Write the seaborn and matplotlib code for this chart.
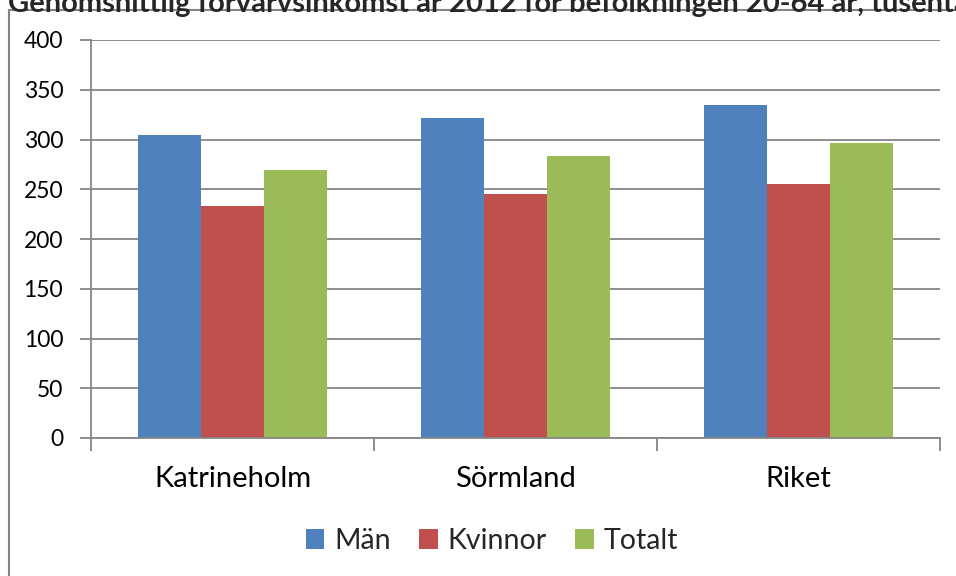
import matplotlib
matplotlib.use("Agg")
import matplotlib.pyplot as plt
import seaborn as sns
import pandas as pd
from matplotlib.patches import Rectangle

categories = ["Katrineholm", "Sörmland", "Riket"]
series = ["Män", "Kvinnor", "Totalt"]
man = [305, 322, 335]
kvinnor = [233, 245, 255]
totalt = [269, 283, 296]
colors = ["#4F81BD", "#C0504D", "#9BBB59"]
yticks = [0, 50, 100, 150, 200, 250, 300, 350, 400]
title = "Genomsnittlig förvärvsinkomst år 2012 för befolkningen 20-64 år, tusental kr"

rows = []
for s, vals in zip(series, [man, kvinnor, totalt]):
    for c, v in zip(categories, vals):
        rows.append({"Område": c, "Serie": s, "Värde": v})
df = pd.DataFrame(rows)

sns.set_theme(style="white")
plt.rcParams["font.family"] = ["Lato", "DejaVu Sans"]

W, H = 956, 576
fig = plt.figure(figsize=(W / 100, H / 100), dpi=100)
ax = fig.add_axes([91 / W, 1 - 438 / H, (940 - 91) / W, (438 - 40) / H])

sns.barplot(data=df, x="Område", y="Värde", hue="Serie", order=categories,
            hue_order=series, palette=colors, width=0.667, saturation=1,
            ax=ax, legend=True, linewidth=0)

grid_c = "#868686"
ax.set_ylim(0, 400)
ax.set_xlim(-0.5, 2.5)
ax.set_yticks(yticks)
ax.set_yticklabels([str(t) for t in yticks], fontsize=16.5)
ax.yaxis.grid(True, color=grid_c, linewidth=1.3)
ax.set_axisbelow(True)
ax.set_xlabel("")
ax.set_ylabel("")
for side in ["top", "right"]:
    ax.spines[side].set_visible(False)
for side in ["left", "bottom"]:
    ax.spines[side].set_color(grid_c)
    ax.spines[side].set_linewidth(1.3)
ax.tick_params(axis="y", which="major", length=8, width=1.3, color=grid_c,
               pad=12, left=True, labelcolor="black")
ax.tick_params(axis="x", which="major", length=0, pad=20, labelsize=21, labelcolor="black")
ax.set_xticks([-0.5, 0.5, 1.5, 2.5], minor=True)
ax.tick_params(axis="x", which="minor", length=9, width=1.3, color=grid_c, bottom=True)

leg = ax.legend(loc="center", bbox_to_anchor=(492 / W, 1 - 541 / H),
                bbox_transform=fig.transFigure, ncol=3, frameon=False,
                fontsize=20.5, handlelength=0.65, handleheight=0.65,
                handletextpad=0.35, columnspacing=1.0)

fig.text(8 / W, 1 - 12 / H, title, fontsize=21, fontweight="bold",
         va="baseline", ha="left")

fig.patches.append(Rectangle((9 / W, -0.2), 1.2, 1.2 - 10 / H,
                             transform=fig.transFigure, fill=False,
                             edgecolor=grid_c, linewidth=1.5, zorder=-1))

fig.savefig("out.png", dpi=100, facecolor="white")
